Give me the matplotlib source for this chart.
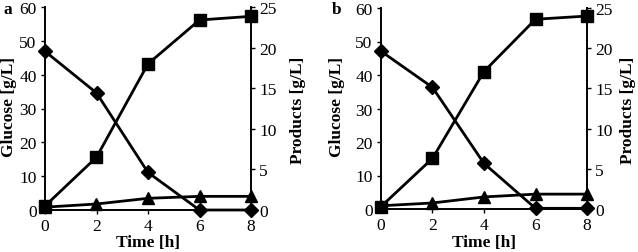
import matplotlib.pyplot as plt

# 数据
time_h = [0, 2, 4, 6, 8]
glucose_a = [46.9, 34.6, 11.1, 0.0, 0.0]
product1_a = [0.5, 6.5, 18.0, 23.4, 23.85]
product2_a = [0.35, 0.74, 1.44, 1.68, 1.68]
glucose_b = [47.1, 36.3, 13.6, 0.2, 0.2]
product1_b = [0.3, 6.3, 17.1, 23.6, 24.0]
product2_b = [0.4, 0.75, 1.5, 1.85, 1.85]
panel_labels = ['a', 'b']

plt.rcParams['font.family'] = ['Liberation Serif', 'DejaVu Serif']

W, H = 638, 253
fig = plt.figure(figsize=(W / 100, H / 100), dpi=100)

# 每个面板: 数据, 坐标轴位置(像素), 左/右 y 轴标签 x 位置, 面板字母 x 位置
panels = [
    (glucose_a, product1_a, product2_a, (45, 42, 206, 203), 9, 298, 8),
    (glucose_b, product1_b, product2_b, (381, 43, 206, 201), 337, 628, 337),
]

for i, (glc, p1, p2, px, lx, rx, bx) in enumerate(panels):
    ax = fig.add_axes([px[0] / W, px[1] / H, px[2] / W, px[3] / H])
    ax2 = ax.twinx()
    ax.plot(time_h, glc, color='black', marker='D', markersize=7, linewidth=2)
    ax2.plot(time_h, p1, color='black', marker='s', markersize=8, linewidth=2)
    ax2.plot(time_h, p2, color='black', marker='^', markersize=8, linewidth=2)

    ax.set_xlim(0, 8)
    ax.set_ylim(0, 60)
    ax2.set_ylim(0, 25)
    ax.set_xticks([0, 2, 4, 6, 8])
    ax.set_yticks(range(0, 61, 10))
    ax2.set_yticks(range(0, 26, 5))
    for a in (ax, ax2):
        a.spines['top'].set_visible(False)
        a.spines['left'].set_linewidth(1.2)
        a.spines['right'].set_linewidth(1.2)
        a.spines['bottom'].set_linewidth(1.2)
        a.tick_params(direction='out', length=3, width=1, labelsize=12.5, pad=3)
    for line in ax.lines + ax2.lines:
        line.set_clip_on(False)

    # 轴标签
    fig.text((px[0] + px[2] / 2) / W, 1 - 243 / H, 'Time [h]',
             fontweight='bold', fontsize=12.5, ha='center', va='center')
    fig.text(lx / W, 1 - 107 / H, 'Glucose [g/L]', rotation=90,
             fontweight='bold', fontsize=12.5, ha='center', va='center')
    fig.text(rx / W, 1 - 110 / H, 'Products [g/L]', rotation=90,
             fontweight='bold', fontsize=12.5, ha='center', va='center')
    fig.text(bx / W, 1 - 10 / H, panel_labels[i],
             fontweight='bold', fontsize=12.5, ha='center', va='center')

fig.savefig('out.png', dpi=100)
